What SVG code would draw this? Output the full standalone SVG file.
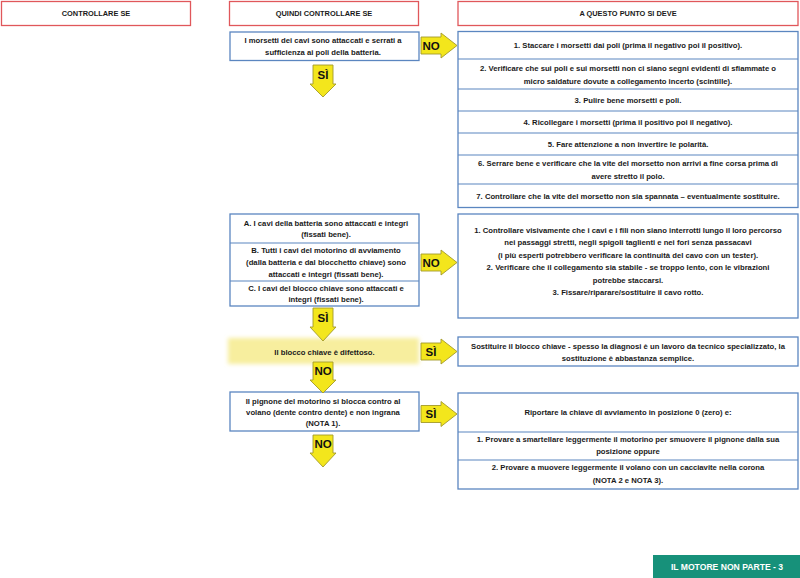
<svg xmlns="http://www.w3.org/2000/svg" width="800" height="578" viewBox="0 0 800 578">
<defs>
<style>
.hdr{fill:#fff;stroke:#e0575b;stroke-width:1.3}
.box{fill:#fff;stroke:#5b86c0;stroke-width:1.3}
.sep{stroke:#5b86c0;stroke-width:1.2}
text{font-family:"Liberation Sans",Arial,sans-serif;font-weight:bold;fill:#1a1a1a}
.t{font-size:7.7px;text-anchor:middle}
.h{font-size:7.4px;text-anchor:middle}
.arr{fill:#f3e61c;stroke:#a39a2a;stroke-width:0.9;stroke-linejoin:miter}
.lbl{font-size:11.5px;text-anchor:middle;fill:#111}
.foot{font-size:8.6px;text-anchor:middle;fill:#fff}
</style>
<filter id="soft" x="-10%" y="-30%" width="120%" height="160%"><feGaussianBlur stdDeviation="2"/></filter>
</defs>
<rect width="800" height="578" fill="#fff"/>

<g id="header-left"><rect class="hdr" x="1.5" y="1.5" width="189" height="24"/><text class="h" x="96" y="16">CONTROLLARE SE</text></g>
<g id="header-mid"><rect class="hdr" x="229.5" y="1.5" width="189" height="24"/><text class="h" x="324" y="16">QUINDI CONTROLLARE SE</text></g>
<g id="header-right"><rect class="hdr" x="458" y="1.5" width="340" height="24"/><text class="h" x="628" y="16">A QUESTO PUNTO SI DEVE</text></g>

<g id="check-morsetti"><rect class="box" x="230" y="32" width="189" height="28.5"/>
<text class="t" x="323" y="42.5">I morsetti dei cavi sono attaccati e serrati a</text>
<text class="t" x="323" y="55">sufficienza ai poli della batteria.</text></g>

<g id="steps-morsetti"><rect class="box" x="458" y="31.5" width="340" height="176"/>
<line class="sep" x1="458" y1="59" x2="798" y2="59"/>
<line class="sep" x1="458" y1="89" x2="798" y2="89"/>
<line class="sep" x1="458" y1="111" x2="798" y2="111"/>
<line class="sep" x1="458" y1="133" x2="798" y2="133"/>
<line class="sep" x1="458" y1="155" x2="798" y2="155"/>
<line class="sep" x1="458" y1="184" x2="798" y2="184"/>
<text class="t" x="628" y="48">1. Staccare i morsetti dai poli (prima il negativo poi il positivo).</text>
<text class="t" x="628" y="70.5">2. Verificare che sui poli e sui morsetti non ci siano segni evidenti di sfiammate o</text>
<text class="t" x="628" y="83.5">micro saldature dovute a collegamento incerto (scintille).</text>
<text class="t" x="628" y="103">3. Pulire bene morsetti e poli.</text>
<text class="t" x="628" y="125">4. Ricollegare i morsetti (prima il positivo poi il negativo).</text>
<text class="t" x="628" y="147">5. Fare attenzione a non invertire le polarità.</text>
<text class="t" x="628" y="166">6. Serrare bene e verificare che la vite del morsetto non arrivi a fine corsa prima di</text>
<text class="t" x="628" y="179">avere stretto il polo.</text>
<text class="t" x="628" y="199">7. Controllare che la vite del morsetto non sia spannata – eventualmente sostituire.</text></g>

<g id="check-cavi"><rect class="box" x="230" y="214" width="189" height="92"/>
<line class="sep" x1="230" y1="243" x2="419" y2="243"/>
<line class="sep" x1="230" y1="281" x2="419" y2="281"/>
<text class="t" x="326" y="226">A. I cavi della batteria sono attaccati e integri</text>
<text class="t" x="326" y="237">(fissati bene).</text>
<text class="t" x="326" y="253">B. Tutti i cavi del motorino di avviamento</text>
<text class="t" x="326" y="265">(dalla batteria e dal blocchetto chiave) sono</text>
<text class="t" x="326" y="277">attaccati e integri (fissati bene).</text>
<text class="t" x="326" y="291">C. I cavi del blocco chiave sono attaccati e</text>
<text class="t" x="326" y="302">integri (fissati bene).</text></g>

<g id="steps-cavi"><rect class="box" x="458" y="214" width="340" height="104"/>
<text class="t" x="628" y="232.5">1. Controllare visivamente che i cavi e i fili non siano interrotti lungo il loro percorso</text>
<text class="t" x="628" y="245">nei passaggi stretti, negli spigoli taglienti e nei fori senza passacavi</text>
<text class="t" x="628" y="257.5">(i più esperti potrebbero verificare la continuità del cavo con un tester).</text>
<text class="t" x="628" y="270">2. Verificare che il collegamento sia stabile - se troppo lento, con le vibrazioni</text>
<text class="t" x="628" y="282.5">potrebbe staccarsi.</text>
<text class="t" x="628" y="295">3. Fissare/riparare/sostituire il cavo rotto.</text></g>

<g id="check-blocco"><rect x="228" y="338" width="191" height="26" fill="#f7ee9e" filter="url(#soft)"/>
<text class="t" x="324.5" y="354.5">Il blocco chiave è difettoso.</text></g>

<g id="steps-blocco"><rect class="box" x="458" y="337" width="340" height="29"/>
<text class="t" x="628" y="348.5">Sostituire il blocco chiave - spesso la diagnosi è un lavoro da tecnico specializzato, la</text>
<text class="t" x="628" y="360.5">sostituzione è abbastanza semplice.</text></g>

<g id="check-pignone"><rect class="box" x="230" y="392" width="189" height="39"/>
<text class="t" x="323" y="403.5">Il pignone del motorino si blocca contro al</text>
<text class="t" x="323" y="414.5">volano (dente contro dente) e non ingrana</text>
<text class="t" x="323" y="425.5">(NOTA 1).</text></g>

<g id="steps-pignone"><rect class="box" x="458" y="393" width="340" height="96"/>
<line class="sep" x1="458" y1="432" x2="798" y2="432"/>
<line class="sep" x1="458" y1="460" x2="798" y2="460"/>
<text class="t" x="628" y="415">Riportare la chiave di avviamento in posizione 0 (zero) e:</text>
<text class="t" x="628" y="441.5">1. Provare a smartellare leggermente  il motorino per smuovere il pignone dalla sua</text>
<text class="t" x="628" y="453.5">posizione oppure</text>
<text class="t" x="628" y="470">2. Provare a muovere leggermente il volano con un cacciavite nella corona</text>
<text class="t" x="628" y="482.5">(NOTA 2 e NOTA 3).</text></g>

<g id="connectors">
<g id="no-1"><polygon class="arr" points="421,37 441,37 441,33 457,45.5 441,58 441,54 421,54"/><text class="lbl" x="431" y="49.5">NO</text></g>
<g id="si-1"><polygon class="arr" points="313,65 333,65 333,84 336,84 323,97 310,84 313,84"/><text class="lbl" x="323" y="79">SÌ</text></g>
<g id="no-2"><polygon class="arr" points="421,254 441,254 441,250 457,262.5 441,275 441,271 421,271"/><text class="lbl" x="431" y="266.5">NO</text></g>
<g id="si-2"><polygon class="arr" points="313,308 333,308 333,327 336,327 323,341 310,327 313,327"/><text class="lbl" x="323" y="322">SÌ</text></g>
<g id="si-3"><polygon class="arr" points="421,343 441,343 441,339 457,351.5 441,364 441,360 421,360"/><text class="lbl" x="431" y="355.5">SÌ</text></g>
<g id="no-3"><polygon class="arr" points="313,362 333,362 333,380 336,380 323,393 310,380 313,380"/><text class="lbl" x="323" y="375">NO</text></g>
<g id="si-4"><polygon class="arr" points="421,405.5 441,405.5 441,401.5 457,414 441,426.5 441,422.5 421,422.5"/><text class="lbl" x="431" y="418">SÌ</text></g>
<g id="no-4"><polygon class="arr" points="313,435 333,435 333,453 336,453 323,467 310,453 313,453"/><text class="lbl" x="323" y="448">NO</text></g>
</g>

<g id="footer"><rect x="653" y="555" width="147" height="23" fill="#17917a"/><text class="foot" x="727" y="569.5">IL MOTORE NON PARTE - 3</text></g>
</svg>
